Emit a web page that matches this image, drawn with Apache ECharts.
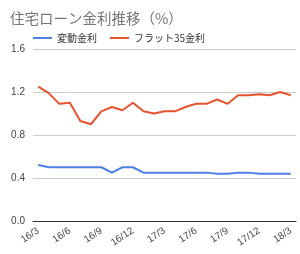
<!DOCTYPE html>
<html>
<head>
<meta charset="UTF-8">
<title></title>
<style>html,body{margin:0;padding:0;background:#fff}</style>
</head>
<body>
<div id="main" style="width:300px;height:254px;"></div>
<script src="https://cdn.jsdelivr.net/npm/echarts@6/dist/echarts.min.js"></script>
<script>
// 月次（16/3〜18/3）
var months = ['16/3','16/4','16/5','16/6','16/7','16/8','16/9','16/10','16/11','16/12',
  '17/1','17/2','17/3','17/4','17/5','17/6','17/7','17/8','17/9','17/10','17/11','17/12',
  '18/1','18/2','18/3'];
var hendo = [0.52,0.50,0.50,0.50,0.50,0.50,0.50,0.45,0.50,0.50,0.45,0.45,0.45,0.45,0.45,0.45,
  0.45,0.44,0.44,0.45,0.45,0.44,0.44,0.44,0.44];
var flat35 = [1.25,1.19,1.09,1.10,0.93,0.90,1.02,1.06,1.03,1.10,1.02,1.00,1.02,1.02,1.06,1.09,
  1.09,1.13,1.09,1.17,1.17,1.18,1.17,1.20,1.17];
var yTicks = [0, 0.4, 0.8, 1.2, 1.6];

var myChart = echarts.init(document.getElementById('main'));
var option = {
  animation: false,
  title: {
    text: '住宅ローン金利推移（%）',
    left: 10, top: 11, padding: 0,
    textStyle: { fontSize: 14.5, fontWeight: 'normal', color: '#757575', fontFamily: 'Noto Sans CJK JP' }
  },
  legend: {
    left: 33, top: 33, padding: 0,
    itemWidth: 19, itemHeight: 2, itemGap: 13,
    icon: 'rect',
    textStyle: { fontSize: 10, color: '#333', fontFamily: 'Noto Sans CJK JP' },
    data: ['変動金利', 'フラット35金利']
  },
  grid: { left: 33, right: 4, top: 49, bottom: 33 },
  xAxis: {
    type: 'category',
    boundaryGap: true,
    data: months,
    axisLine: { lineStyle: { color: '#333', width: 1 } },
    axisTick: { show: false },
    axisLabel: { interval: 2, rotate: 33, fontSize: 10, color: '#444', margin: 9, fontFamily: 'Arial' }
  },
  yAxis: {
    type: 'value',
    min: yTicks[0], max: yTicks[yTicks.length - 1], interval: 0.4,
    axisLine: { show: false },
    axisTick: { show: false },
    splitLine: { lineStyle: { color: '#ccc' } },
    axisLabel: { fontSize: 10, color: '#444', margin: 8, fontFamily: 'Arial',
      formatter: function (v) { return v.toFixed(1); } }
  },
  series: [
    { name: '変動金利', type: 'line', data: hendo, symbol: 'none',
      itemStyle: { color: '#4f7fe3' }, lineStyle: { width: 2, color: '#4f7fe3' } },
    { name: 'フラット35金利', type: 'line', data: flat35, symbol: 'none',
      itemStyle: { color: '#e6532f' }, lineStyle: { width: 2, color: '#e6532f' } }
  ]
};
myChart.setOption(option);
</script>
</body>
</html>
